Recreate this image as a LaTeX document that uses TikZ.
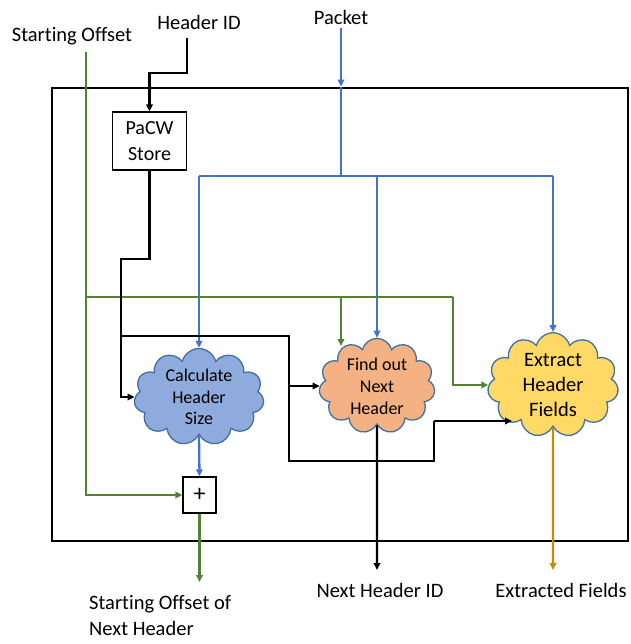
\documentclass[tikz,border=0pt]{standalone}
\usepackage{fontspec}
\setmainfont{Carlito}[Ligatures=NoCommon]
\usetikzlibrary{shapes.symbols,arrows.meta}
\definecolor{cgreen}{HTML}{548235}
\definecolor{cblue}{HTML}{4472C4}
\definecolor{cgold}{HTML}{BF9000}
\definecolor{cloudline}{HTML}{41719C}
\definecolor{fillblue}{HTML}{8FAADC}
\definecolor{fillorange}{HTML}{F4B183}
\definecolor{fillyellow}{HTML}{FFD966}
\begin{document}
\begin{tikzpicture}[x=1pt,y=-1pt,
  wire/.style={line width=2.3pt, line join=miter},
  tip/.style={-{Triangle[length=7pt,width=6.5pt]}},
  gw/.style={wire, draw=cgreen},
  bw/.style={wire, draw=black},
  blw/.style={wire, draw=cblue},
  ow/.style={wire, draw=cgold},
  lbl/.style={font=\fontsize{20.5}{26}\selectfont, inner sep=0pt},
  cloudbox/.style={cloud, cloud puffs=11, cloud ignores aspect, draw=cloudline, line width=1.3pt, align=center, inner sep=0pt},
  plainbox/.style={draw, line width=1.3pt, align=center, inner sep=0pt}]
\useasboundingbox (0,0) rectangle (630,644);

% frame
\node[draw, line width=2.8pt, minimum width=576pt, minimum height=453pt, inner sep=0pt] (frame) at (340,314.5) {};

% labels
\node[lbl] (so) at (72,36) {Starting Offset};
\node[lbl] (hid) at (199,22) {Header ID};
\node[lbl] (pk) at (341,17) {Packet};
\node[lbl] (nhid) at (380,590) {Next Header ID};
\node[lbl] (ef) at (561,590) {Extracted Fields};
\node[lbl, align=left, anchor=north west] (sonh) at (89,595) {Starting Offset of\\Next Header};

% boxes
\node[plainbox, minimum width=74pt, minimum height=58pt, font=\fontsize{20}{26}\selectfont] (pacw) at (149.5,141) {PaCW\\Store};
\node[plainbox, minimum width=33pt, minimum height=36pt, font=\fontsize{24}{24}\selectfont] (plus) at (199.5,495) {+};

% clouds
\node[cloudbox, fill=fillblue, minimum width=130pt, minimum height=97pt, font=\fontsize{18}{21.5}\selectfont] (calc) at (199,397) {Calculate\\Header\\Size};
\node[cloudbox, fill=fillorange, minimum width=116pt, minimum height=93pt, font=\fontsize{18}{22}\selectfont] (find) at (377,386) {Find out\\Next\\Header};
\node[cloudbox, fill=fillyellow, minimum width=131pt, minimum height=96pt, font=\fontsize{20.5}{25}\selectfont] (extr) at (553,385) {Extract\\Header\\Fields};

% coordinates
\coordinate (h0) at (187,38);
\coordinate (h1) at (187,73);
\coordinate (so0) at (86,52);
\coordinate (pk0) at (341,28);
\coordinate (bsplit) at (341,176);
\coordinate (gL) at (86,297);
\coordinate (gR) at (453,297);
\coordinate (gF) at (341,346);
\coordinate (b1) at (149.5,259);
\coordinate (b2) at (121,259);
\coordinate (b3) at (121,336);
\coordinate (b4) at (289,336);
\coordinate (b5) at (289,461);
\coordinate (b6) at (434,461);
\coordinate (b7) at (434,421);
\coordinate (exin) at (512,421);
\coordinate (o1) at (199.5,582);
\coordinate (o2) at (377,570);
\coordinate (o3) at (553,570);

% header id -> pacw
\draw[bw,tip] (h0) -- (h1) -| (pacw.north);

% packet
\draw[blw,tip] (pk0) -- (pk0 |- frame.north);
\draw[blw] (pk0 |- frame.north) -- (bsplit);
\draw[blw] (calc.north |- bsplit) -- (extr.north |- bsplit);
\draw[blw,tip] (calc.north |- bsplit) -- (calc.north);
\draw[blw,tip] (find.north |- bsplit) -- (find.north);
\draw[blw,tip] (extr.north |- bsplit) -- (extr.north);

% starting offset (green)
\draw[gw,tip] (so0) |- (plus.west);
\draw[gw] (gL) -- (gR);
\draw[gw,tip] (gF |- gL) -- (gF);
\draw[gw,tip] (gR) |- (extr.west);

% pacw -> clouds (black)
\draw[bw,tip] (pacw.south) -- (b1) -- (b2) |- (calc.west);
\draw[bw] (b3) -- (b4) -- (b5) -- (b6) -- (b7);
\draw[bw,tip] (b7) -- (exin);
\draw[bw,tip] (b4 |- find.west) -- (find.west);

% calc -> plus
\draw[blw,tip] (calc.south) -- (plus.north);

% outputs
\draw[gw,tip] (plus.south) -- (o1);
\draw[bw,tip] (find.south) -- (o2);
\draw[ow,tip] (extr.south) -- (o3);
\end{tikzpicture}
\end{document}
